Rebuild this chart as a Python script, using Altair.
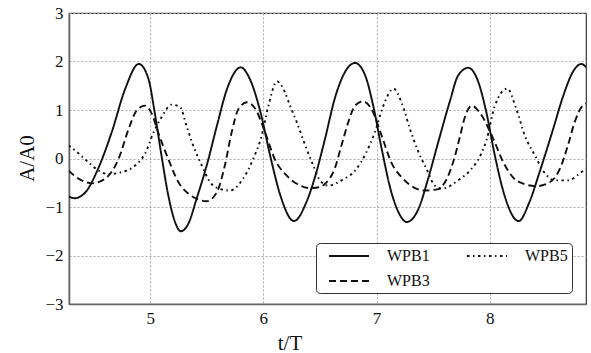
import altair as alt
import pandas as pd

# ---- data ----
t_wpb1 = [4.28, 4.33, 4.43, 4.54, 4.66, 4.78, 4.90, 4.985, 5.04, 5.10, 5.16, 5.22, 5.27, 5.34,
          5.41, 5.50, 5.59, 5.68, 5.80, 5.88, 5.975, 6.06, 6.15, 6.27, 6.38, 6.46, 6.545, 6.63,
          6.72, 6.81, 6.90, 6.97, 7.045, 7.13, 7.21, 7.265, 7.37, 7.455, 7.545, 7.65, 7.72, 7.81,
          7.90, 7.97, 8.045, 8.13, 8.255, 8.35, 8.44, 8.56, 8.65, 8.74, 8.81, 8.85]
a_wpb1 = [-0.78, -0.82, -0.69, -0.21, 0.54, 1.44, 1.95, 1.64, 0.95, 0.06, -0.76, -1.31, -1.50, -1.33,
          -0.83, -0.14, 0.68, 1.44, 1.88, 1.64, 0.95, 0.06, -0.76, -1.29, -0.90, -0.35, 0.41, 1.23,
          1.78, 1.97, 1.71, 1.09, 0.20, -0.69, -1.18, -1.31, -1.04, -0.42, 0.34, 1.20, 1.71, 1.87,
          1.57, 0.95, 0.06, -0.76, -1.29, -0.90, -0.28, 0.61, 1.30, 1.81, 1.95, 1.88]

t_wpb3 = [4.28, 4.37, 4.485, 4.60, 4.72, 4.81, 4.88, 4.955, 5.02, 5.07, 5.16, 5.25, 5.34, 5.43,
          5.50, 5.59, 5.66, 5.72, 5.78, 5.855, 5.93, 6.015, 6.10, 6.205, 6.295, 6.41, 6.50, 6.545,
          6.63, 6.69, 6.75, 6.81, 6.88, 6.955, 7.045, 7.13, 7.235, 7.34, 7.43, 7.545, 7.62, 7.69,
          7.735, 7.78, 7.84, 7.91, 8.03, 8.12, 8.205, 8.295, 8.41, 8.53, 8.62, 8.69, 8.75, 8.82, 8.85]
a_wpb3 = [-0.25, -0.42, -0.51, -0.42, -0.01, 0.61, 0.99, 1.09, 0.89, 0.54, -0.01, -0.49, -0.73, -0.85,
          -0.88, -0.69, -0.14, 0.54, 1.02, 1.16, 1.02, 0.54, -0.01, -0.35, -0.52, -0.61, -0.59, -0.52,
          -0.21, 0.27, 0.75, 1.09, 1.18, 1.02, 0.47, -0.08, -0.42, -0.61, -0.66, -0.63, -0.42, 0.03,
          0.44, 0.85, 1.09, 0.95, 0.41, -0.08, -0.39, -0.52, -0.57, -0.49, -0.21, 0.27, 0.75, 1.09, 1.13]

t_wpb5 = [4.28, 4.37, 4.455, 4.545, 4.63, 4.75, 4.87, 4.955, 5.03, 5.10, 5.19, 5.265, 5.32, 5.38,
          5.455, 5.53, 5.62, 5.705, 5.82, 5.91, 5.985, 6.045, 6.12, 6.19, 6.235, 6.295, 6.37, 6.44,
          6.50, 6.575, 6.69, 6.81, 6.91, 6.985, 7.06, 7.15, 7.22, 7.295, 7.37, 7.44, 7.515, 7.58,
          7.72, 7.84, 7.925, 7.97, 8.045, 8.155, 8.235, 8.31, 8.40, 8.47, 8.575, 8.69, 8.81, 8.85]
a_wpb5 = [0.27, 0.10, -0.08, -0.25, -0.32, -0.28, -0.14, 0.10, 0.54, 0.85, 1.11, 1.06, 0.68, 0.27,
          -0.14, -0.49, -0.63, -0.66, -0.42, -0.01, 0.47, 1.09, 1.59, 1.37, 1.09, 0.75, 0.27, -0.14,
          -0.45, -0.56, -0.45, -0.25, 0.13, 0.54, 1.09, 1.44, 1.16, 0.61, 0.13, -0.21, -0.56, -0.62,
          -0.45, -0.21, 0.10, 0.37, 1.09, 1.44, 1.02, 0.47, 0.06, -0.25, -0.45, -0.45, -0.28, -0.21]

series_order = ["WPB1", "WPB3", "WPB5"]
x_ticks = [5, 6, 7, 8]
y_ticks = [-3, -2, -1, 0, 1, 2, 3]

rows = []
for name, ts, vals in [("WPB1", t_wpb1, a_wpb1), ("WPB3", t_wpb3, a_wpb3), ("WPB5", t_wpb5, a_wpb5)]:
    for t, a in zip(ts, vals):
        rows.append({"series": name, "t": t, "A": a})
df = pd.DataFrame(rows)

FONT = "Liberation Serif"

chart = alt.Chart(df).mark_line(
    color="#111", strokeWidth=1.9, interpolate="monotone", clip=True
).encode(
    x=alt.X("t:Q",
            scale=alt.Scale(domain=[4.283, 8.85], nice=False, zero=False),
            axis=alt.Axis(values=x_ticks, title="t/T", format="d",
                          labelFont=FONT, labelFontSize=17, labelColor="#111",
                          titleX=220.5, titleY=45, titleBaseline="alphabetic",
                          titleAlign="center", labelPadding=6)),
    y=alt.Y("A:Q",
            scale=alt.Scale(domain=[-3, 3], nice=False),
            axis=alt.Axis(values=y_ticks, title="A/A0", format="d",
                          labelFont=FONT, labelFontSize=17, labelColor="#111",
                          titleX=-36, titleY=145, titleAngle=270,
                          titleBaseline="alphabetic", titleAlign="center", labelPadding=6)),
    strokeDash=alt.StrokeDash(
        "series:N",
        scale=alt.Scale(domain=series_order,
                        range=[[1, 0], [7, 4], [2.5, 3.5, 1.5, 3.5]]),
        legend=alt.Legend(title=None, orient="none", legendX=247, legendY=230,
                          columns=2, symbolType="M-2.5,0H2.5", symbolSize=256,
                          symbolOffset=20,
                          symbolStrokeWidth=2, symbolStrokeColor="#111",
                          labelFont=FONT, labelFontSize=16, labelColor="#111",
                          labelOffset=29, columnPadding=28, rowPadding=8,
                          padding=4, strokeColor="#333", cornerRadius=4,
                          fillColor="white"),
    ),
).properties(
    width=517, height=291,
    autosize=alt.AutoSizeParams(type="none"),
    padding={"left": 69, "top": 13, "right": 5, "bottom": 49},
    background="white",
).configure_view(
    stroke="#333", strokeWidth=1.2
).configure_axis(
    labelFont=FONT, labelFontSize=17, labelColor="#111",
    titleFont=FONT, titleFontSize=21, titleFontWeight="normal", titleColor="#111",
    ticks=False, domainColor="#666", domainWidth=1.6,
    grid=True, gridColor="#aaa", gridDash=[2, 2], gridWidth=1,
)

chart.save("out.html", embed_options={"renderer": "svg", "actions": False})
